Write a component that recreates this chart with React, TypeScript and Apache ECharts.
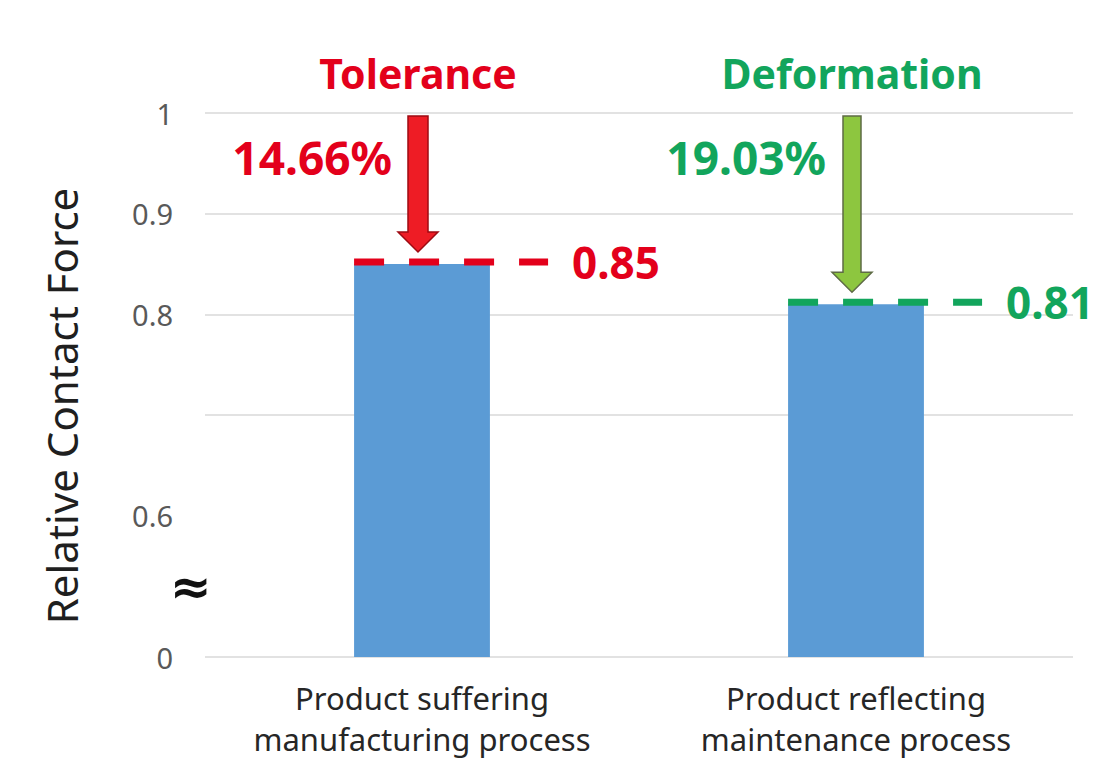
import React, { useEffect, useRef } from 'react';
import * as echarts from 'echarts';

const categories = ['Product suffering\nmanufacturing process', 'Product reflecting\nmaintenance process'];
const values = [0.85, 0.81];
const annotTitles = ['Tolerance', 'Deformation'];
const annotPercents = ['14.66%', '19.03%'];
const annotColors = ['#E3001B', '#12A55C'];
const arrowFills = ['#EE1C25', '#8DC63F'];
const arrowStrokes = ['#9E0A12', '#5E6B45'];
const yTickLabels = [0, 0.6, 0.8, 0.9, 1];
const yMin = 0;
const yMax = 1;
const yInterval = 0.1;
const yBreakStart = 0;
const yBreakEnd = 0.6;

const FONT = '"Noto Sans", "Noto Sans CJK KR", sans-serif';

export default function App() {
  const ref = useRef<HTMLDivElement>(null);
  useEffect(() => {
    const chart = echarts.init(ref.current as HTMLDivElement, null, { renderer: 'svg' });
    const option: any = {
      animation: false,
      backgroundColor: '#ffffff',
      grid: { left: 205, right: 45, top: 113, bottom: 106 },
      xAxis: {
        type: 'category',
        data: categories,
        axisLine: { show: false },
        axisTick: { show: false },
        axisLabel: { fontSize: 31, lineHeight: 41, color: '#262626', margin: 20, fontFamily: FONT, interval: 0 },
      },
      yAxis: {
        type: 'value',
        min: yMin,
        max: yMax,
        interval: yInterval,
        breaks: [{ start: yBreakStart, end: yBreakEnd, gap: '26%' }],
        breakArea: {
          itemStyle: { color: 'rgba(0,0,0,0)', borderColor: 'rgba(0,0,0,0)', borderWidth: 0, opacity: 0 },
        },
        axisLine: { show: false },
        axisTick: { show: false },
        axisLabel: {
          customValues: yTickLabels,
          formatter: (v: number) => String(v),
          fontSize: 29,
          color: '#595959',
          margin: 32,
          fontFamily: FONT,
        },
        splitLine: { lineStyle: { color: '#D9D9D9', width: 1.5 } },
        name: 'Relative Contact Force',
        nameLocation: 'middle',
        nameGap: 123,
        nameRotate: 90,
        nameTextStyle: { fontSize: 42, color: '#1F1F1F', fontFamily: FONT, padding: [0, 42, 0, 0] },
      },
      series: [
        {
          type: 'bar',
          data: values,
          barWidth: '31.3%',
          itemStyle: { color: '#5B9BD5' },
        },
        {
          type: 'custom',
          data: values.map((v, i) => [i, v]),
          clip: false,
          z: 10,
          renderItem: (params: any, api: any) => {
            const i = api.value(0);
            const v = api.value(1);
            const p = api.coord([i, v]);
            const top = api.coord([i, yMax]);
            const band = api.size([1, 0])[0];
            const barW = band * 0.313;
            const cx = p[0] - 4;
            const tipY = p[1] - 12;
            const headH = 20;
            const headHalf = 20;
            const shaftHalf = i === 0 ? 10 : 9;
            const shaftTop = top[1] + 3;
            const lineX0 = p[0] - barW / 2;
            const lineX1 = lineX0 + band * 0.447;
            const col = annotColors[i];
            return {
              type: 'group',
              children: [
                {
                  type: 'line',
                  shape: { x1: lineX0, y1: p[1] - 2, x2: lineX1, y2: p[1] - 2 },
                  style: { stroke: col, lineWidth: 7, lineDash: [30, 25] },
                },
                {
                  type: 'text',
                  x: lineX1 + 24,
                  y: p[1] - 2,
                  style: {
                    text: v.toFixed(2), fill: col, fontSize: 44, fontWeight: 'bold', fontFamily: FONT,
                    align: 'left', verticalAlign: 'middle',
                  },
                },
                {
                  type: 'polygon',
                  shape: {
                    points: [
                      [cx - shaftHalf, shaftTop], [cx + shaftHalf, shaftTop], [cx + shaftHalf, tipY - headH],
                      [cx + headHalf, tipY - headH], [cx, tipY], [cx - headHalf, tipY - headH],
                      [cx - shaftHalf, tipY - headH],
                    ],
                  },
                  style: { fill: arrowFills[i], stroke: arrowStrokes[i], lineWidth: 1.5 },
                },
                {
                  type: 'text',
                  x: cx,
                  y: top[1] - 40,
                  style: {
                    text: annotTitles[i], fill: col, fontSize: 41, fontWeight: 'bold', fontFamily: FONT,
                    align: 'center', verticalAlign: 'middle',
                  },
                },
                {
                  type: 'text',
                  x: cx - 26,
                  y: top[1] + 44,
                  style: {
                    text: annotPercents[i], fill: col, fontSize: 46, fontWeight: 'bold', fontFamily: FONT,
                    align: 'right', verticalAlign: 'middle',
                  },
                },
              ],
            };
          },
        },
      ],
      graphic: [
        {
          type: 'text',
          x: 191,
          y: 587,
          style: {
            text: '≈', fontSize: 50, fontWeight: 'bold', fontFamily: '"DejaVu Sans"', fill: '#111111',
            align: 'center', verticalAlign: 'middle',
          },
        },
      ],
    };
    chart.setOption(option);
    return () => chart.dispose();
  }, []);
  return <div ref={ref} style={{ position: 'fixed', left: 0, top: 0, width: 1118, height: 763 }} />;
}
